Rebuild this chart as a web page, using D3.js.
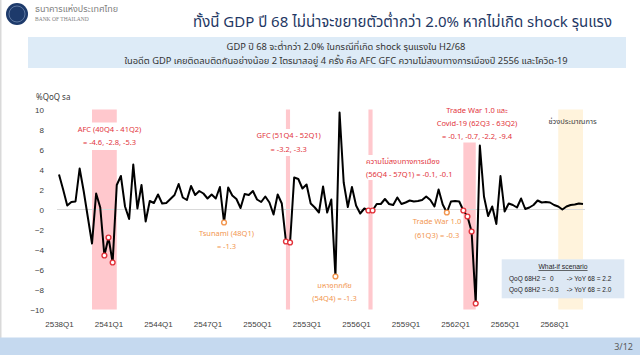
<!DOCTYPE html>
<html><head><meta charset="utf-8">
<script src="https://cdn.jsdelivr.net/npm/d3@7"></script>
<style>
html,body{margin:0;padding:0;background:#fff;}
svg{display:block;font-family:Tahoma,"Noto Sans Thai","Noto Sans","DejaVu Sans",sans-serif;}
</style></head>
<body><svg id="c" width="640" height="355"></svg>
<script>
// ---------------- DATA ----------------
const years = d3.range(2538, 2570);
const categories = years.flatMap(y => [1,2,3,4].map(q => y + "Q" + q));
const gdp = [
 3.5, 2.0, 0.4, 0.75, 0.8, 4.1, 1.8, -0.8,
 -3.4, 1.6, 0.2, -4.6, -2.8, -5.3, 2.45, 3.35,
 0.3, -0.95, 4.5, 0.1, 2.45, -1.2, 0.85, 0.65,
 1.5, 0.6, 0.65, 1.05, 1.45, 2.55, 1.2, 0.95,
 2.35, 1.45, 1.85, 1.6, 1.1, 1.5, 1.1, 2.25,
 -1.3, 2.2, 1.4, 1.05, 0.15, 1.55, 1.45, 1.85,
 1.0, 0.75, 1.3, 0.7, -0.5, 1.5, 0.6, -3.2,
 -3.3, 3.2, 3.05, 2.1, 2.5, 0.6, 0.2, -0.3,
 2.3, -0.3, 1.0, -6.7, 9.7, 2.7, 0.25, 2.25,
 0.4, -0.4, 0.1, -0.1, -0.1, 0.55, 0.55, 1.05,
 0.55, 0.45, 1.2, 0.55, 0.7, 0.9, 0.8, 0.85,
 0.95, 1.3, 0.95, 0.3, 2.0, 0.5, -0.3, 0.8,
 0.85, 0.8, -0.1, -0.7, -2.2, -9.4, 6.4, 1.3,
 -0.65, 0.3, -1.45, 3.35, -0.2, 0.6, 0.45, 0.2,
 1.1, 0.05, 0.2, 0.45, 0.9, 0.7, 0.75, 0.7,
 0.45, 0.3, 0.0, 0.3, 0.45, 0.5, 0.6, 0.55
];
const xTickLabels = ["2538Q1","2541Q1","2544Q1","2547Q1","2550Q1","2553Q1","2556Q1","2559Q1","2562Q1","2565Q1","2568Q1"];
const yTicks = [-10,-8,-6,-4,-2,0,2,4,6,8,10];
const redMarks = ["2540Q4","2541Q1","2541Q2","2551Q4","2552Q1","2556Q4","2557Q1","2562Q3","2562Q4","2563Q1","2563Q2"];
const orangeMarks = ["2548Q1","2554Q4","2561Q3"];
const crisisBands = [["2540Q1","2541Q3"],["2551Q4","2552Q1"],["2556Q4","2557Q1"],["2562Q3","2563Q2"]];
const forecastBand = ["2568Q2","2569Q4"];

const titleText = "ทั้งนี้ GDP ปี 68 ไม่น่าจะขยายตัวต่ำกว่า 2.0% หากไม่เกิด shock รุนแรง";
const boxLines = ["GDP ปี 68 จะต่ำกว่า 2.0% ในกรณีที่เกิด shock รุนแรงใน H2/68",
  "ในอดีต GDP เคยติดลบติดกันอย่างน้อย 2 ไตรมาสอยู่ 4 ครั้ง คือ AFC GFC ความไม่สงบทางการเมืองปี 2556 และโควิด-19"];
const afcLabel = ["AFC (40Q4 - 41Q2)", "= -4.6, -2.8, -5.3"];
const gfcLabel = ["GFC (51Q4 - 52Q1)", "= -3.2, -3.3"];
const polLabel = ["ความไม่สงบทางการเมือง", "(56Q4 - 57Q1) = -0.1, -0.1"];
const covidLabel = ["Trade War 1.0 และ", "Covid-19 (62Q3 - 63Q2)", "= -0.1, -0.7, -2.2, -9.4"];
const tsunamiLabel = ["Tsunami (48Q1)", "= -1.3"];
const floodLabel = ["มหาอุทกภัย", "(54Q4) = -1.3"];
const tradeLabel = ["Trade War 1.0", "(61Q3) = -0.3"];
const forecastLabel = "ช่วงประมาณการ";
const whatIfTitle = "What-if scenario";
const whatIfQoQ = ["0", "-0.3"];
const whatIfYoY = ["2.2", "2.0"];

// ---------------- DRAW ----------------
const svg = d3.select("#c");
const RED = "#e2343c", ORANGE = "#f2964f", DARK = "#404040";

svg.append("rect").attr("width",640).attr("height",355).attr("fill","#fff");
svg.append("rect").attr("x",0).attr("y",0).attr("width",1.5).attr("height",338).attr("fill","#d9d9d9");

// header
svg.append("circle").attr("cx",17).attr("cy",14).attr("r",11).attr("fill","#1d3a6b");
svg.append("circle").attr("cx",17).attr("cy",14).attr("r",8).attr("fill","none").attr("stroke","#6d86ad").attr("stroke-width",0.8);
svg.append("text").attr("x",35).attr("y",12).attr("font-size",9).attr("fill","#7f7f7f").text("ธนาคารแห่งประเทศไทย");
svg.append("text").attr("x",35).attr("y",21).attr("font-size",5.5).attr("font-family","'Liberation Serif',serif").attr("fill","#7f7f7f").text("BANK OF THAILAND");
svg.append("text").attr("x",612).attr("y",27).attr("text-anchor","end").attr("font-size",15).attr("fill","#1f3864").text(titleText);

svg.append("rect").attr("x",28).attr("y",37).attr("width",598).attr("height",31).attr("fill","#ddebf7");
boxLines.forEach((t,i)=>svg.append("text").attr("x",346).attr("y",47+i*13.5).attr("dy","0.35em")
  .attr("text-anchor","middle").attr("font-size",9.3).attr("fill","#333").text(t));

// scales
const x = d3.scalePoint().domain(categories).range([59, 583]);
const y = d3.scaleLinear().domain([-10,10]).range([309.5,109.5]);

// bands
svg.append("g").selectAll("rect").data(crisisBands).join("rect")
  .attr("x", d=>x(d[0])).attr("width", d=>x(d[1])-x(d[0]))
  .attr("y", y(10)).attr("height", y(-10)-y(10)).attr("fill","#ffc8cd");
svg.append("rect").attr("x",x(forecastBand[0])).attr("width",x(forecastBand[1])-x(forecastBand[0]))
  .attr("y",y(10)).attr("height",y(-10)-y(10)).attr("fill","#fff3dc");

// zero line
svg.append("line").attr("x1",57).attr("x2",585).attr("y1",y(0)).attr("y2",y(0)).attr("stroke","#d9d9d9").attr("stroke-width",1);

// axes
const yAxis = d3.axisLeft(y).tickValues(yTicks).tickSize(0).tickFormat(d3.format("d"));
const gy = svg.append("g").attr("transform","translate(47,0)").call(yAxis);
gy.select(".domain").remove();
gy.selectAll("text").attr("font-size",8).attr("fill",DARK).attr("font-family",null);
svg.append("text").attr("x",36).attr("y",97).attr("dy","0.35em").attr("font-size",8).attr("fill",DARK).text("%QoQ sa");

const xAxis = d3.axisBottom(x).tickValues(xTickLabels).tickSize(0);
const gx = svg.append("g").attr("transform","translate(0,318)").call(xAxis);
gx.select(".domain").remove();
gx.selectAll("text").attr("font-size",8).attr("fill",DARK).attr("font-family",null).attr("dy","0.71em");

// line
const line = d3.line().x((d,i)=>x(categories[i])).y(d=>y(d));
svg.append("path").datum(gdp).attr("d",line).attr("fill","none").attr("stroke","#000").attr("stroke-width",2).attr("stroke-linejoin","round");

// markers
const idx = c => categories.indexOf(c);
svg.append("g").selectAll("circle").data(redMarks).join("circle")
  .attr("cx",d=>x(d)).attr("cy",d=>y(gdp[idx(d)])).attr("r",2.4)
  .attr("fill","#fff").attr("stroke",RED).attr("stroke-width",1.4);
svg.append("g").selectAll("circle").data(orangeMarks).join("circle")
  .attr("cx",d=>x(d)).attr("cy",d=>y(gdp[idx(d)])).attr("r",2.4)
  .attr("fill","#fff").attr("stroke",ORANGE).attr("stroke-width",1.4);

// annotation helper
function label(lines, cx, y0, dyStep, color, anchor, box){
  if(box) svg.append("rect").attr("x",box[0]).attr("y",box[1]).attr("width",box[2]).attr("height",box[3]).attr("fill","#fff");
  lines.forEach((t,i)=>svg.append("text").attr("x",cx).attr("y",y0+i*dyStep).attr("dy","0.35em")
    .attr("text-anchor",anchor||"middle").attr("font-size",7.5).attr("fill",color).text(t));
}
label(afcLabel, 109.5, 129.3, 13, RED, "middle", [74,122.5,72,27.5]);
label(gfcLabel, 288.7, 135.7, 13.3, RED, "middle", [255,129,68,27]);
label(polLabel, 366, 161.7, 12.3, RED, "start", [364,155,92,25]);
label(covidLabel, 477, 110.7, 12.7, RED, "middle", [434,104,86,38.5]);
label(tsunamiLabel, 226.5, 233.3, 12.7, ORANGE, "middle");
label(floodLabel, 334.5, 285, 13.3, ORANGE, "middle");
label(tradeLabel, 437, 221.7, 13.3, ORANGE, "middle");
svg.append("text").attr("x",572.5).attr("y",121.7).attr("dy","0.35em").attr("text-anchor","middle")
  .attr("font-size",7.5).attr("fill",DARK).text(forecastLabel);

// what-if box
const WF = "'Liberation Sans',Arial,sans-serif";
svg.append("rect").attr("x",501.7).attr("y",259.3).attr("width",122.6).attr("height",39).attr("fill","#dde8f4");
svg.append("text").attr("x",563).attr("y",266.7).attr("dy","0.35em").attr("text-anchor","middle").attr("font-family",WF)
  .attr("font-size",6.8).attr("fill","#262626").attr("text-decoration","underline").text(whatIfTitle);
whatIfQoQ.forEach((v,i)=>{
  const yy = 278.3 + i*11;
  const t = svg.append("text").attr("y",yy).attr("dy","0.35em").attr("font-family",WF).attr("font-size",6.5)
    .attr("fill","#262626");
  t.append("tspan").attr("x",509).text("QoQ 68H2 =");
  t.append("tspan").attr("x", v.length > 1 ? 547.5 : 550).text(v);
  t.append("tspan").attr("x",566.7).text("-> YoY 68 = " + whatIfYoY[i]);
});

// footer
svg.append("rect").attr("x",0).attr("y",337.5).attr("width",640).attr("height",17.5).attr("fill","#c5d9ef");
svg.append("text").attr("x",633).attr("y",347).attr("dy","0.35em").attr("text-anchor","end").attr("font-size",9).attr("fill","#595959").text("3/12");
</script></body></html>
